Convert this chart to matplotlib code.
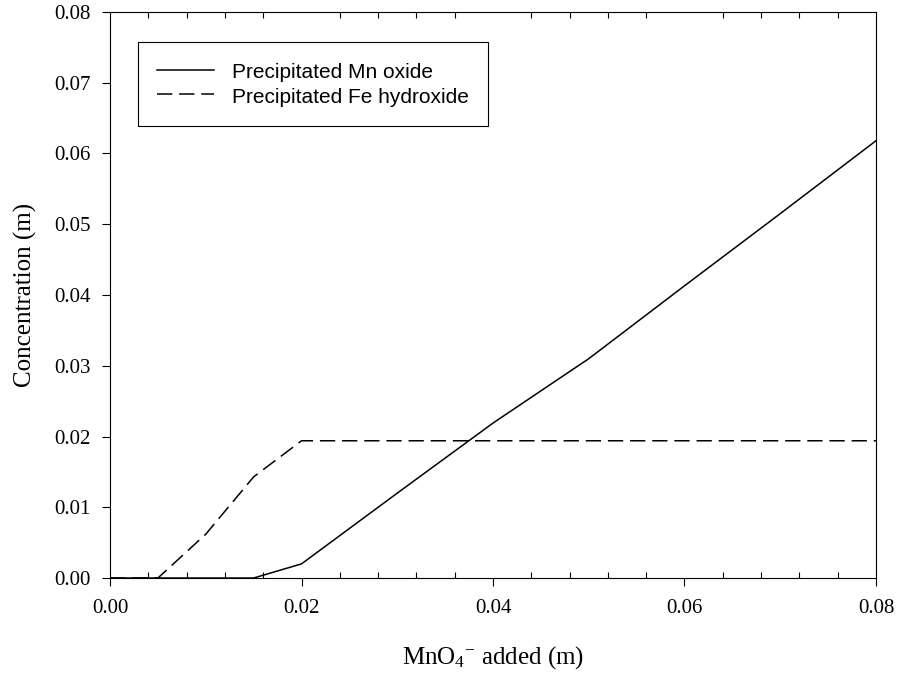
import matplotlib
matplotlib.use("Agg")
import matplotlib.pyplot as plt
from matplotlib.ticker import MultipleLocator, FormatStrFormatter

# MnO4- titration: precipitated phases vs. permanganate added
mno4_added = [0.0, 0.005, 0.010, 0.015, 0.020, 0.030, 0.040, 0.050, 0.060, 0.070, 0.080]
mn_oxide = [0.0, 0.0, 0.0, 0.0, 0.0020, 0.0120, 0.0219, 0.0310, 0.0413, 0.0515, 0.0618]
fe_hydroxide = [0.0, 0.0, 0.0062, 0.0143, 0.0194, 0.0194, 0.0194, 0.0194, 0.0194, 0.0194, 0.0194]

plt.rcParams['font.family'] = 'Liberation Serif'
plt.rcParams['mathtext.fontset'] = 'custom'
plt.rcParams['mathtext.rm'] = 'Liberation Serif'
plt.rcParams['mathtext.it'] = 'Liberation Serif:italic'

fig = plt.figure(figsize=(8.99, 6.77), dpi=100)
ax = fig.add_axes([0.1224, 0.1462, 0.8520, 0.8361])

ax.plot(mno4_added, mn_oxide, color='black', lw=1.1, label='Precipitated Mn oxide')
ax.plot(mno4_added, fe_hydroxide, color='black', lw=1.1, dashes=(10, 4.5),
        label='Precipitated Fe hydroxide')

ax.set_xlim(0, 0.08)
ax.set_ylim(0, 0.08)
ax.xaxis.set_major_locator(MultipleLocator(0.02))
ax.xaxis.set_minor_locator(MultipleLocator(0.004))
ax.yaxis.set_major_locator(MultipleLocator(0.01))
ax.xaxis.set_major_formatter(FormatStrFormatter('%.2f'))
ax.yaxis.set_major_formatter(FormatStrFormatter('%.2f'))

ax.tick_params(which='major', direction='out', length=5.5, width=0.8,
               labelsize=15, top=False, right=False)
ax.tick_params(axis='x', which='major', pad=9.5)
ax.tick_params(axis='y', which='major', pad=8.5)
ax.tick_params(which='minor', direction='in', length=4, width=0.8,
               bottom=True, top=True, left=False, right=False)
for sp in ax.spines.values():
    sp.set_linewidth(0.8)

ax.set_xlabel(r'MnO$_4{}^{\mathregular{-}}$ added (m)', fontsize=18)
ax.set_ylabel('Concentration (m)', fontsize=18)
ax.xaxis.set_label_coords(0.5, -0.117)
ax.yaxis.set_label_coords(-0.0953, 0.5)

leg = ax.legend(loc='upper left', bbox_to_anchor=(0.0366, 0.947), frameon=True,
                fancybox=False, edgecolor='black', framealpha=1,
                prop={'family': 'Liberation Sans', 'size': 15},
                handlelength=2.74, handletextpad=0.87, handleheight=1.2,
                borderpad=0.9, labelspacing=0.15, borderaxespad=0)
leg.get_frame().set_linewidth(0.8)

fig.savefig('out.png', dpi=100)
